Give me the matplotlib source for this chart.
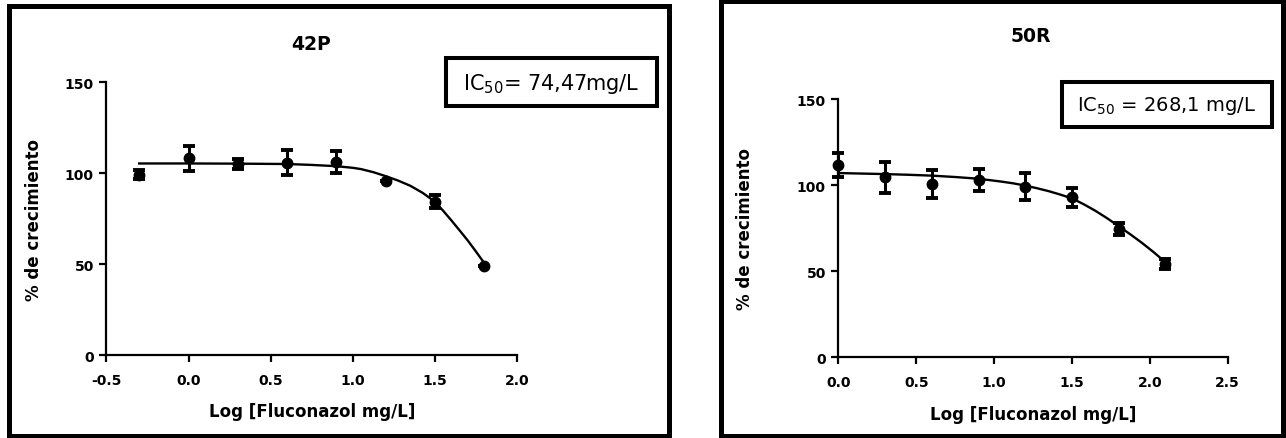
import matplotlib
matplotlib.use("Agg")
import matplotlib.pyplot as plt
from matplotlib.patches import Rectangle
from matplotlib.ticker import FormatStrFormatter

# 42P: log dose, mean % growth, error
x_42p = [-0.3, 0.0, 0.3, 0.6, 0.9, 1.2, 1.5, 1.8]
y_42p = [99.2, 108.2, 105.1, 105.8, 106.3, 95.5, 84.3, 48.8]
err_42p = [2.5, 6.8, 2.5, 7.0, 6.0, 0.0, 3.5, 0.0]
# fitted curve
fit_x_42p = [-0.3, 0.0, 0.3, 0.6, 0.75, 0.9, 1.0, 1.05, 1.125, 1.2, 1.275,
             1.35, 1.425, 1.5, 1.55, 1.6, 1.65, 1.7, 1.75, 1.8]
fit_y_42p = [105.4, 105.4, 105.3, 105.1, 104.6, 103.9, 103.0, 102.3, 100.6,
             98.4, 96.0, 93.1, 89.2, 84.3, 79.3, 74.0, 68.5, 62.9, 56.8, 50.5]

# 50R
x_50r = [0.0, 0.3, 0.6, 0.9, 1.2, 1.5, 1.8, 2.1]
y_50r = [111.7, 104.5, 100.6, 103.1, 99.1, 92.9, 74.5, 54.2]
err_50r = [7.0, 9.0, 8.0, 6.5, 8.0, 5.5, 3.3, 3.0]
fit_x_50r = [0.0, 0.3, 0.45, 0.6, 0.75, 0.9, 1.05, 1.125, 1.2, 1.275, 1.35,
             1.425, 1.5, 1.575, 1.65, 1.725, 1.8, 1.875, 1.95, 2.025, 2.1]
fit_y_50r = [107.0, 106.4, 106.0, 105.5, 104.7, 103.7, 102.0, 101.0, 99.7,
             98.2, 96.5, 94.5, 92.3, 88.9, 85.1, 80.8, 76.1, 71.4, 66.4, 61.0,
             55.2]

W, H = 1286, 439
plt.rcParams["axes.unicode_minus"] = False
plt.rcParams["mathtext.default"] = "regular"
plt.rcParams["font.family"] = "DejaVu Sans"


def px_box(x0, y0, x1, y1):
    """pixel box (top-left origin) -> figure fraction rect"""
    return x0 / W, 1 - y1 / H, (x1 - x0) / W, (y1 - y0) / H


def add_frame(fig, box, lw):
    r = px_box(*box)
    fig.patches.append(Rectangle(r[:2], r[2], r[3], transform=fig.transFigure,
                                 fill=False, lw=lw, ec="black"))


def draw_panel(ax, x, y, err, fx, fy, xlim, xticks, ylab_x):
    ax.plot(fx, fy, color="black", lw=1.7, clip_on=False, zorder=2)
    ax.errorbar(x, y, yerr=err, fmt="o", color="black", ms=7.5,
                elinewidth=2.2, capsize=4, capthick=2.8, clip_on=False,
                zorder=3)
    ax.set_xlim(*xlim)
    ax.set_ylim(0, 150)
    ax.set_xticks(xticks)
    ax.set_yticks([0, 50, 100, 150])
    ax.xaxis.set_major_formatter(FormatStrFormatter("%.1f"))
    for s in ["top", "right"]:
        ax.spines[s].set_visible(False)
    for s in ["left", "bottom"]:
        ax.spines[s].set_linewidth(1.6)
    ax.tick_params(direction="out", length=5, width=1.6, labelsize=10)
    ax.tick_params(axis="x", pad=8)
    ax.tick_params(axis="y", pad=4)
    for lab in ax.get_xticklabels() + ax.get_yticklabels():
        lab.set_fontweight("bold")
    ax.set_xlabel("Log [Fluconazol mg/L]", fontsize=12, fontweight="bold",
                  labelpad=11)
    ax.set_ylabel("% de crecimiento", fontsize=12, fontweight="bold")
    ax.yaxis.set_label_coords(ylab_x, 0.5)


fig = plt.figure(figsize=(W / 100, H / 100), dpi=100)

ax1 = fig.add_axes([0.0827, 0.189, 0.3195, 0.621])
draw_panel(ax1, x_42p, y_42p, err_42p, fit_x_42p, fit_y_42p,
           (-0.5, 2.0), [-0.5, 0.0, 0.5, 1.0, 1.5, 2.0], -0.154)

ax2 = fig.add_axes([0.6519, 0.1838, 0.3028, 0.5884])
draw_panel(ax2, x_50r, y_50r, err_50r, fit_x_50r, fit_y_50r,
           (0.0, 2.5), [0.0, 0.5, 1.0, 1.5, 2.0, 2.5], -0.2165)

# outer frames
add_frame(fig, (9, 7, 669, 437), 3.6)
add_frame(fig, (721, 2, 1283, 437), 3.6)

# IC50 boxes
add_frame(fig, (446, 59, 657, 107), 2.9)
add_frame(fig, (1062, 83, 1272, 128), 2.9)
fig.text(551 / W, 1 - 84 / H, "IC$_{50}$= 74,47mg/L", fontsize=15,
         ha="center", va="center")
fig.text(1166 / W, 1 - 106 / H, "IC$_{50}$ = 268,1 mg/L", fontsize=14,
         ha="center", va="center")

# titles
fig.text(311 / W, 1 - 45 / H, "42P", fontsize=13.5, fontweight="bold",
         ha="center", va="center")
fig.text(1031 / W, 1 - 36 / H, "50R", fontsize=13.5, fontweight="bold",
         ha="center", va="center")

fig.savefig("out.png", dpi=100)
